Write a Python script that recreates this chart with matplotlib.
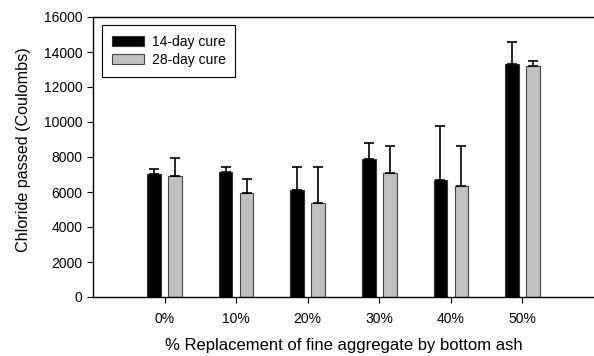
import numpy as np
import matplotlib
matplotlib.use("Agg")
import matplotlib.pyplot as plt

plt.rcParams["font.family"] = ["Liberation Sans", "DejaVu Sans"]

categories = ["0%", "10%", "20%", "30%", "40%", "50%"]
cure14 = [7030, 7160, 6110, 7870, 6690, 13330]
cure14_upper = [7300, 7410, 7450, 8820, 9790, 14550]
cure28 = [6930, 5960, 5390, 7100, 6360, 13220]
cure28_upper = [7950, 6740, 7450, 8630, 8650, 13500]

x = np.arange(len(categories))
width = 0.19
offset = 0.147

err14 = np.array(cure14_upper) - np.array(cure14)
err28 = np.array(cure28_upper) - np.array(cure28)

fig = plt.figure(figsize=(5.94, 3.56), dpi=100)
ax = fig.add_axes([93 / 594, 59 / 356, 501 / 594, 280 / 356])

err_kw = dict(ecolor="black", elinewidth=1.2, capsize=3.6, capthick=1.2)
ax.bar(x - offset, cure14, width, color="black", edgecolor="#333333", linewidth=0.8,
       yerr=[np.zeros(len(x)), err14], error_kw=err_kw, label="14-day cure")
ax.bar(x + offset, cure28, width, color="#c0c0c0", edgecolor="#444444", linewidth=0.8,
       yerr=[np.zeros(len(x)), err28], error_kw=err_kw, label="28-day cure")

ax.set_xlim(-1, 6)
ax.set_ylim(0, 16000)
ax.set_yticks(np.arange(0, 16001, 2000))
ax.set_xticks(x)
ax.set_xticklabels(categories)
ax.tick_params(axis="both", direction="out", labelsize=10, length=4, width=0.8)
ax.tick_params(axis="x", pad=6.5)
ax.spines["right"].set_visible(False)
for s in ["left", "bottom", "top"]:
    ax.spines[s].set_linewidth(1.0)

ax.set_xlabel("% Replacement of fine aggregate by bottom ash", fontsize=12, labelpad=9)
ax.set_ylabel("Chloride passed (Coulombs)", fontsize=11.6)
ax.yaxis.set_label_coords(-0.124, 0.525)

leg = ax.legend(loc="upper left", bbox_to_anchor=(0.018, 0.971), borderaxespad=0,
                fontsize=10, fancybox=False, framealpha=1, edgecolor="black",
                borderpad=0.7, handlelength=2.3, handleheight=0.72,
                handletextpad=0.57, labelspacing=0.3)
leg.get_frame().set_linewidth(0.8)

fig.savefig("out.png", dpi=100)
